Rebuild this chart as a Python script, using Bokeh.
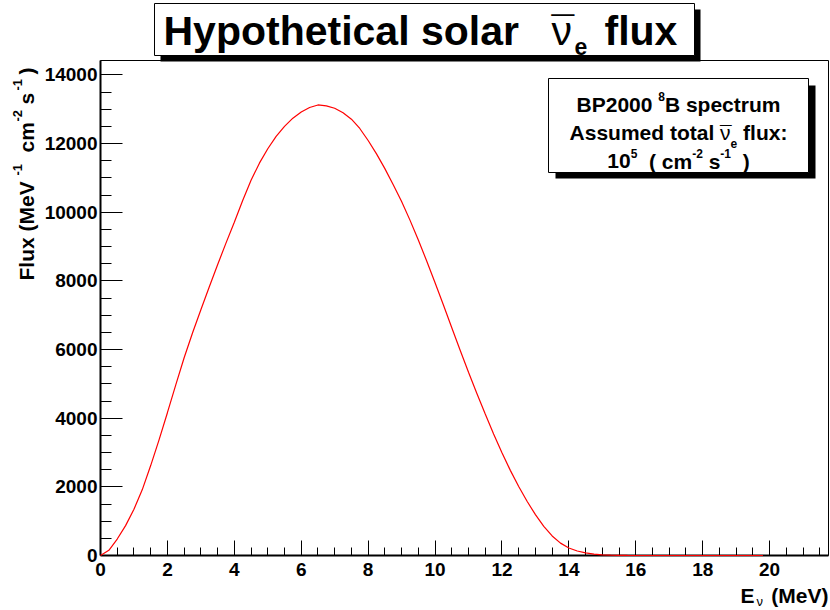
from math import pi

from bokeh.plotting import figure
from bokeh.models import Label, BoxAnnotation, SingleIntervalTicker, Range1d
from bokeh.embed import file_html
from bokeh.resources import INLINE

# ---------------- data ----------------
energy = [0.0, 0.25, 0.5, 0.75, 1.0, 1.25, 1.5, 1.75, 2.0, 2.25, 2.5, 2.75,
          3.0, 3.25, 3.5, 3.75, 4.0, 4.25, 4.5, 4.75, 5.0, 5.25, 5.5, 5.75,
          6.0, 6.25, 6.5, 6.75, 7.0, 7.25, 7.5, 7.75, 8.0, 8.25, 8.5, 8.75,
          9.0, 9.25, 9.5, 9.75, 10.0, 10.25, 10.5, 10.75, 11.0, 11.25, 11.5,
          11.75, 12.0, 12.25, 12.5, 12.75, 13.0, 13.25, 13.5, 13.75, 14.0,
          14.25, 14.5, 14.75, 15.0, 15.25, 15.5, 15.75, 16.0, 17.0, 18.0,
          19.0, 19.8]
flux = [0, 150, 480, 870, 1350, 1920, 2620, 3370, 4160, 4970, 5760, 6480,
        7160, 7820, 8470, 9100, 9710, 10340, 10930, 11430, 11850, 12210,
        12500, 12740, 12920, 13050, 13125, 13100, 13030, 12900, 12710, 12440,
        12090, 11700, 11270, 10800, 10310, 9770, 9190, 8580, 7945, 7295,
        6635, 5980, 5340, 4720, 4120, 3540, 2990, 2480, 2010, 1580, 1190,
        850, 570, 360, 220, 130, 75, 40, 20, 9, 4, 1, 0, 0, 0, 0, 0]

X_MAX = 21.76
Y_MAX = 14420
X_TICK_STEP = 2
Y_TICK_STEP = 2000

# ---------------- layout (page pixels) ----------------
W, H = 830, 610
FL, FR, FT, FB = 100, 828, 60, 555          # visual frame of the plot
FONT = "Liberation Sans"
K_BASE = 0.30                                 # baseline correction (fraction of font size)


def dx(px):
    return (px - FL) / (FR - FL) * X_MAX


def dy(py):
    return (FB - py) / (FB - FT) * Y_MAX


# the Bokeh frame covers the whole canvas so nothing gets clipped;
# the axes are pinned at 0 and bounded to the data window
p = figure(width=W, height=H,
           x_range=Range1d(dx(0), dx(W)), y_range=Range1d(dy(H), dy(0)),
           output_backend="svg", toolbar_location=None, title=None,
           min_border_left=0, min_border_right=0,
           min_border_top=0, min_border_bottom=0)
p.background_fill_color = "white"
p.border_fill_color = "white"
p.outline_line_color = None
p.xgrid.visible = False
p.ygrid.visible = False

p.xaxis.ticker = SingleIntervalTicker(interval=X_TICK_STEP, num_minor_ticks=4)
p.yaxis.ticker = SingleIntervalTicker(interval=Y_TICK_STEP, num_minor_ticks=4)
p.xaxis.fixed_location = 0
p.yaxis.fixed_location = 0
p.xaxis.bounds = (0, X_MAX)
p.yaxis.bounds = (0, Y_MAX)
for ax in (p.xaxis, p.yaxis):
    ax.axis_line_color = "black"
    ax.axis_line_width = 2
    ax.major_tick_line_color = "black"
    ax.minor_tick_line_color = "black"
    ax.major_tick_out = 0
    ax.minor_tick_out = 0
    ax.major_label_text_font = FONT
    ax.major_label_text_font_style = "bold"
    ax.major_label_text_font_size = "19px"
    ax.major_label_text_color = "black"
p.xaxis.major_tick_in = 15
p.xaxis.minor_tick_in = 8
p.yaxis.major_tick_in = 22
p.yaxis.minor_tick_in = 11
p.xaxis.major_label_standoff = 7
p.yaxis.major_label_standoff = 3

# frame box (top and right edges)
p.add_layout(BoxAnnotation(left=0, right=X_MAX, bottom=0, top=Y_MAX,
                           fill_alpha=0, line_color="black", line_alpha=1.0,
                           line_width=1))

p.line(energy, flux, line_color="#ff0000", line_width=1.2, level="overlay")

# ---------------- text helpers ----------------
BOLD_W = {' ': 278, '(': 333, ')': 333, '-': 333, ':': 333, 'A': 722, 'B': 722,
          'E': 667, 'F': 611, 'H': 722, 'M': 833, 'P': 667, 'V': 667, 'a': 556,
          'c': 556, 'd': 611, 'e': 556, 'f': 333, 'h': 611, 'i': 278, 'l': 278,
          'm': 889, 'o': 611, 'p': 611, 'r': 389, 's': 556, 't': 333, 'u': 611,
          'x': 556, 'y': 556}
REG_W = {'\u03bd': 500, '\u00af': 552, ' ': 278}


def tw(text, size, bold=True):
    table = BOLD_W if bold else REG_W
    return sum(table.get(c, 556) for c in text) * size / 1000.0


def box(l, t, r, b, fill, line=True):
    p.add_layout(BoxAnnotation(left=dx(l), right=dx(r), top=dy(t), bottom=dy(b),
                               fill_color=fill, fill_alpha=1.0,
                               line_color="black" if line else None,
                               line_alpha=1.0, line_width=1))


def lab(text, px, py, size, bold=True, align="left", angle=0.0):
    if angle == 0.0:
        py = py - K_BASE * size
    else:
        px = px - K_BASE * size
    p.add_layout(Label(x=dx(px), y=dy(py), text=text, text_font=FONT,
                       text_font_size=f"{size}px",
                       text_font_style="bold" if bold else "normal",
                       text_align=align, text_baseline="alphabetic",
                       angle=angle, text_color="black"))


def chain(pieces, cx, base):
    total = sum(tw(t, s, b) for t, s, b, off in pieces)
    x = cx - total / 2.0
    for t, s, b, off in pieces:
        lead = len(t) - len(t.lstrip())
        xd = x + tw(" " * lead, s, b)
        lab(t.strip(), xd, base + off, s, bold=b)
        if t.strip() == "\u03bd":
            lab("\u00af", xd, base + off, s, bold=False)
        x += tw(t, s, b)


# ---------------- title box with shadow ----------------
box(160, 9, 700, 61, "black", line=False)
box(154, 3, 694, 55, "white")
lab("Hypothetical solar", 163, 43, 41)
lab("\u00af", 551, 43, 41, bold=False)
lab("\u03bd", 551, 43, 41, bold=False)
lab("e", 574, 53, 23)
lab("flux", 604, 43, 41)

# ---------------- info box with shadow ----------------
box(555, 85, 815, 178, "black", line=False)
box(548, 78, 808, 172, "white")
CX = 678
chain([("BP2000 ", 21, True, 0), ("8", 12, True, -10),
       ("B spectrum", 21, True, 0)], CX, 110)
chain([("Assumed total ", 21, True, 0), ("\u03bd", 21, False, 0),
       ("e", 12, True, 9), (" flux:", 21, True, 0)], CX, 138)
chain([("10", 21, True, 0), ("5", 12, True, -10), ("  ( cm", 21, True, 0),
       ("-2", 12, True, -10), (" s", 21, True, 0), ("-1", 12, True, -10),
       ("  )", 21, True, 0)], CX, 167)

# ---------------- y axis title (rotated, aligned to the top) ----------------
lab("Flux (MeV", 32, 280, 21, angle=pi / 2)
lab("-1", 21, 175, 13, angle=pi / 2)
lab("cm", 32, 152, 21, angle=pi / 2)
lab("-2", 21, 121, 13, angle=pi / 2)
lab("s", 32, 104, 21, angle=pi / 2)
lab("-1", 21, 90, 13, angle=pi / 2)
lab(")", 32, 74, 21, angle=pi / 2)

# ---------------- x axis title ----------------
lab("E", 740, 601, 21)
lab("\u03bd", 756, 605, 13, bold=False)
lab("(MeV)", 828, 601, 21, align="right")

open("out.html", "w").write(file_html(p, INLINE))
